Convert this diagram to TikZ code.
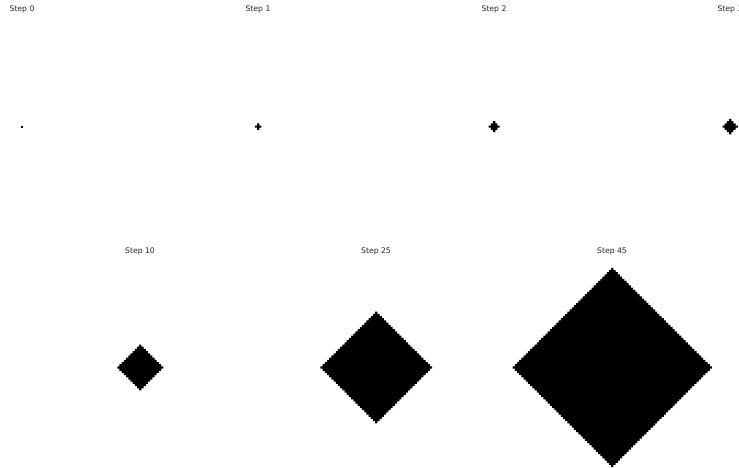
\documentclass[tikz,border=0pt]{standalone}
\usepackage{fontspec}
\setmainfont{DejaVu Sans}
\newcommand\cadiam[3]{%
  \begin{scope}[shift={(#1,#2)}, x=2.19pt, y=2.19pt]
    \ifnum#3=0
      \fill[black] (-0.5,-0.5) rectangle (0.5,0.5);
    \else
      \fill[black] (-0.5,#3+0.5) -- ++(1,0)
        \foreach \k in {1,...,#3}{ -- ++(0,-1) -- ++(1,0)} -- ++(0,-1)
        \foreach \k in {1,...,#3}{ -- ++(-1,0) -- ++(0,-1)} -- ++(-1,0)
        \foreach \k in {1,...,#3}{ -- ++(0,1) -- ++(-1,0)} -- ++(0,1)
        \foreach \k in {1,...,#3}{ -- ++(1,0) -- ++(0,1)} -- cycle;
    \fi
  \end{scope}}
\begin{document}
\begin{tikzpicture}[x=1pt, y=-1pt,
  ttl/.style={font=\fontsize{7.7}{9}\selectfont, text=black!85, inner sep=0pt, anchor=base}]
  \useasboundingbox[fill=white] (0,0) rectangle (739,468);
  % top row
  \node[ttl] (t0) at (22,12) {Step 0};
  \node[ttl] (t1) at (258,12) {Step 1};
  \node[ttl] (t2) at (494,12) {Step 2};
  \node[ttl] (t3) at (730,12) {Step 3};
  \cadiam{22.2}{126.6}{0}
  \cadiam{258.2}{126.6}{1}
  \cadiam{494.2}{126.6}{2}
  \cadiam{730.2}{126.6}{3}
  % bottom row
  \node[ttl] (t10) at (140,253) {Step 10};
  \node[ttl] (t25) at (376,253) {Step 25};
  \node[ttl] (t45) at (612,253) {Step 45};
  \cadiam{140.3}{367.5}{10}
  \cadiam{376.3}{367.5}{25}
  \cadiam{612.3}{367.5}{45}
\end{tikzpicture}
\end{document}
